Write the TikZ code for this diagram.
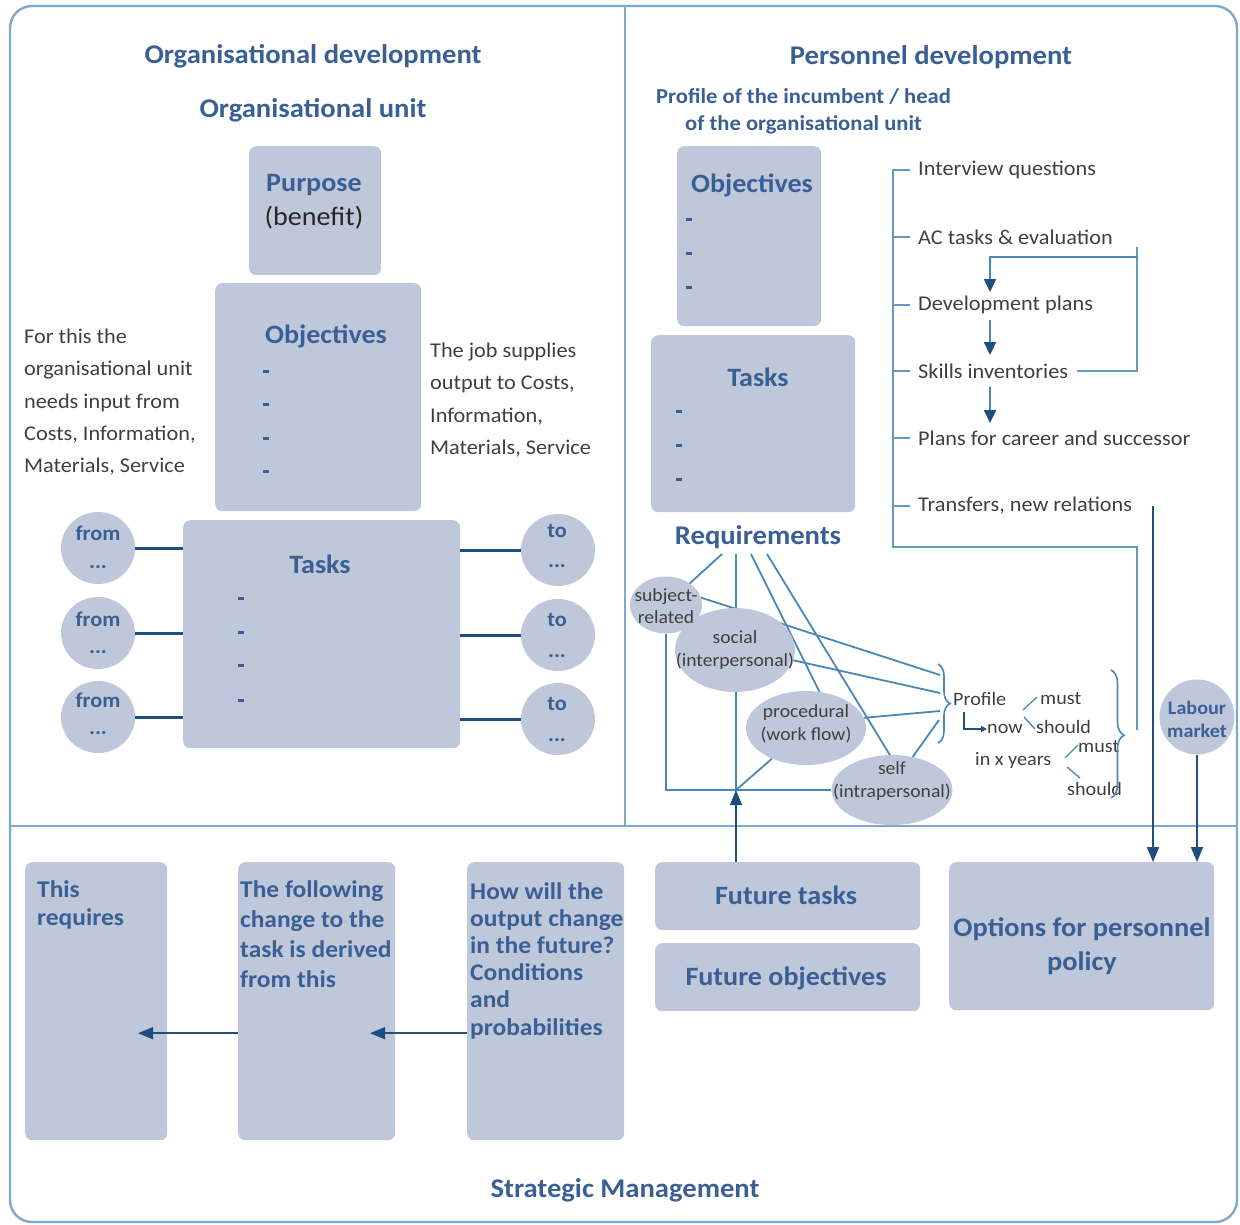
\documentclass[tikz,border=0pt]{standalone}
\usepackage{fontspec}
\setmainfont{Carlito}[FakeStretch=1.06]
\usetikzlibrary{arrows.meta,decorations.pathreplacing,shapes.geometric,calc}
\definecolor{boxfill}{HTML}{BFC8DB}
\definecolor{headblue}{HTML}{3A5F94}
\definecolor{bodygray}{HTML}{3F3F3F}
\definecolor{framecol}{HTML}{7FA8CC}
\definecolor{linecol}{HTML}{4A86B8}
\definecolor{darkblue}{HTML}{1E4F7E}
\pgfdeclarelayer{bg}\pgfsetlayers{bg,main}
\begin{document}
\begin{tikzpicture}[x=1pt,y=-1pt,
  box/.style={fill=boxfill, rounded corners=7pt, inner sep=0pt, anchor=north west},
  ell/.style={ellipse, fill=boxfill, inner sep=0pt},
  hd/.style={text=headblue, font=\bfseries\fontsize{27}{32}\selectfont, inner sep=0pt},
  hdsmall/.style={text=headblue, font=\bfseries\fontsize{21.3}{27}\selectfont, inner sep=0pt},
  bt/.style={text=headblue, font=\bfseries\fontsize{26.5}{31}\selectfont, inner sep=0pt},
  bottxt/.style={text=headblue, font=\bfseries\fontsize{24}{28.5}\selectfont, inner sep=0pt, anchor=north west, align=left},
  eltxt/.style={text=headblue, font=\bfseries\fontsize{21}{24}\selectfont, inner sep=0pt},
  body/.style={text=bodygray, font=\fontsize{21}{32.2}\selectfont, inner sep=0pt},
  listtxt/.style={text=bodygray, font=\fontsize{21}{24}\selectfont, inner sep=0pt, anchor=west},
  reqtxt/.style={text=bodygray, font=\fontsize{18.5}{22.5}\selectfont, inner sep=0pt, align=center},
  proftxt/.style={text=bodygray, font=\fontsize{19}{21}\selectfont, inner sep=0pt, anchor=west},
  dashmk/.style={fill=headblue, minimum width=6pt, minimum height=3pt, inner sep=0pt},
  frame/.style={draw=framecol, line width=2.4pt},
  conn/.style={draw=darkblue, line width=3pt},
  reqline/.style={draw=linecol, line width=1.8pt},
  listline/.style={draw=linecol!85, line width=2.2pt},
  listarr/.style={draw=linecol, line width=2.2pt, -{Triangle[length=13pt,width=12pt,color=darkblue]}},
  darkarr/.style={draw=darkblue, line width=1.6pt, -{Triangle[length=15pt,width=12pt]}},
  smallarr/.style={draw=darkblue, line width=1.8pt, -{Triangle[length=6pt,width=6pt]}},
  brc/.style={draw=linecol, line width=1.6pt, decorate}
]
\useasboundingbox (0,0) rectangle (1240,1224);

% frame
\draw[frame, rounded corners=22pt] (10,6) rectangle (1237,1222);
\draw[frame] (625,6) -- (625,826);
\draw[frame] (10,826) -- (1237,826);

% ---------------- Organisational development ----------------
\node[hd] (odev) at (313,56) {Organisational development};
\node[hd] (ounit) at (313,110) {Organisational unit};

\node[box, minimum width=132pt, minimum height=129pt] (purpose) at (249,146) {};
\node[bt] (purposeT) at (314,185) {Purpose};
\node[text=black!85, font=\fontsize{26.5}{31}\selectfont, inner sep=0pt] (benefit) at (314,218) {(benefit)};

\node[box, minimum width=206pt, minimum height=228pt] (obj) at (215,283) {};
\node[bt] (objT) at (326,336) {Objectives};
\node[dashmk] (od1) at (266,371) {};
\node[dashmk] (od2) at (266,404) {};
\node[dashmk] (od3) at (266,438) {};
\node[dashmk] (od4) at (266,471) {};

\node[body, anchor=north west, align=left] (lefttxt) at (24,329) {For this the\\organisational unit\\needs input from\\Costs, Information,\\Materials, Service};
\node[body, anchor=north west, align=left] (righttxt) at (430,343) {The job supplies\\output to Costs,\\Information,\\Materials, Service};

\node[box, minimum width=277pt, minimum height=228pt] (tasks) at (183,520) {};
\node[bt] (tasksT) at (320,564) {Tasks};
\node[dashmk] (td1) at (241,598) {};
\node[dashmk] (td2) at (241,632) {};
\node[dashmk] (td3) at (241,665) {};
\node[dashmk] (td4) at (241,700) {};

\node[ell, minimum width=74pt, minimum height=72pt] (f1) at (98,548) {};
\node[ell, minimum width=74pt, minimum height=72pt] (f2) at (98,633) {};
\node[ell, minimum width=74pt, minimum height=72pt] (f3) at (98,717) {};
\node[eltxt] (f1a) at (98,533) {from};
\node[eltxt] (f1b) at (98,567) {...};
\node[eltxt] (f2a) at (98,619) {from};
\node[eltxt] (f2b) at (98,652) {...};
\node[eltxt] (f3a) at (98,700) {from};
\node[eltxt] (f3b) at (98,733) {...};

\node[ell, minimum width=74pt, minimum height=72pt] (t1) at (558,550) {};
\node[ell, minimum width=74pt, minimum height=72pt] (t2) at (558,635) {};
\node[ell, minimum width=74pt, minimum height=72pt] (t3) at (558,719) {};
\node[eltxt] (t1a) at (557,531) {to};
\node[eltxt] (t1b) at (557,566) {...};
\node[eltxt] (t2a) at (557,620) {to};
\node[eltxt] (t2b) at (557,656) {...};
\node[eltxt] (t3a) at (557,704) {to};
\node[eltxt] (t3b) at (557,740) {...};

\draw[conn] (f1.east) -- (f1.east -| tasks.west);
\draw[conn] (f2.east) -- (f2.east -| tasks.west);
\draw[conn] (f3.east) -- (f3.east -| tasks.west);
\draw[conn] (t1.west) -- (t1.west -| tasks.east);
\draw[conn] (t2.west) -- (t2.west -| tasks.east);
\draw[conn] (t3.west) -- (t3.west -| tasks.east);

% ---------------- Personnel development ----------------
\node[hd] (pdev) at (931,57) {Personnel development};
\node[hdsmall, anchor=north west, align=left] (profhead) at (656,88) {Profile of the incumbent / head\\\hspace*{29pt}of the organisational unit};

\node[box, minimum width=144pt, minimum height=180pt] (pobj) at (677,146) {};
\node[bt] (pobjT) at (752,185) {Objectives};
\node[dashmk] (pd1) at (689,219) {};
\node[dashmk] (pd2) at (689,253) {};
\node[dashmk] (pd3) at (689,287) {};

\node[box, minimum width=204pt, minimum height=177pt] (ptask) at (651,335) {};
\node[bt] (ptaskT) at (758,377) {Tasks};
\node[dashmk] (pt1) at (679,411) {};
\node[dashmk] (pt2) at (679,445) {};
\node[dashmk] (pt3) at (679,479) {};

\node[hd] (req) at (758,537) {Requirements};

\node[ell, minimum width=72pt, minimum height=57pt] (sr) at (666,605) {};
\node[ell, minimum width=120pt, minimum height=84pt] (soc) at (735,650) {};
\node[ell, minimum width=120pt, minimum height=74pt] (proc) at (806,728) {};
\node[ell, minimum width=121pt, minimum height=70pt] (self) at (892,790) {};
\node[reqtxt] (srT) at (666,606) {subject-\\related};
\node[reqtxt] (socT) at (735,650) {social\\(interpersonal)};
\node[reqtxt] (procT) at (806,724) {procedural\\(work flow)};
\node[reqtxt] (selfT) at (892,781) {self\\(intrapersonal)};

% right list
\node[listtxt] (iq) at (918,170) {Interview questions};
\node[listtxt] (ac) at (918,237) {AC tasks \& evaluation};
\node[listtxt] (dp) at (918,305) {Development plans};
\node[listtxt] (si) at (918,371) {Skills inventories};
\node[listtxt] (pc) at (918,438) {Plans for career and successor};
\node[listtxt] (tr) at (918,506) {Transfers, new relations};
\coordinate (brx) at (893,170);
\coordinate (tkx) at (910,170);
\coordinate (ax) at (990,0);
\coordinate (lpx) at (1137,0);
\coordinate (lpy) at (0,257);

% profile area
\node[proftxt] (prof) at (953,699) {Profile};
\node[proftxt] (now) at (987,729) {now};
\node[proftxt] (must1) at (1040,699) {must};
\node[proftxt] (should1) at (1036,727) {should};
\node[proftxt] (inx) at (975,760) {in x years};
\node[proftxt] (must2) at (1078,747) {must};
\node[proftxt] (should2) at (1067,789) {should};

\node[ell, circle, minimum size=75pt] (lab) at (1197,717) {};
\node[text=headblue, font=\bfseries\fontsize{19}{23}\selectfont, inner sep=0pt, align=center] (labT) at (1197,719) {Labour\\market};

% ---------------- Strategic management ----------------
\node[box, minimum width=142pt, minimum height=278pt] (treq) at (25,862) {};
\node[bottxt] (treqT) at (37,880) {This\\requires};
\node[box, minimum width=157pt, minimum height=278pt] (fol) at (238,862) {};
\node[bottxt, font=\bfseries\fontsize{24}{30.2}\selectfont] (folT) at (240,880) {The following\\change to the\\task is derived\\from this};
\node[box, minimum width=157pt, minimum height=278pt] (how) at (467,862) {};
\node[bottxt, font=\bfseries\fontsize{24}{27.2}\selectfont] (howT) at (470,882) {How will the\\output change\\in the future?\\Conditions\\and\\probabilities};

\node[box, minimum width=265pt, minimum height=68pt] (ft) at (655,862) {};
\node[bt] (ftT) at (786,895) {Future tasks};
\node[box, minimum width=265pt, minimum height=68pt] (fo) at (655,943) {};
\node[bt] (foT) at (786,978) {Future objectives};
\node[box, minimum width=265pt, minimum height=148pt] (opt) at (949,862) {};
\node[bt, align=center, font=\bfseries\fontsize{26.8}{34}\selectfont] (optT) at (1082,946) {Options for personnel\\policy};

\node[hd] (sm) at (625,1190) {Strategic Management};

\draw[darkarr] ($(how.west)+(0,32)$) -- ++(-97,0);
\draw[darkarr] ($(fol.west)+(0,32)$) -- ++(-100,0);

% ---------------- connectors (background) ----------------
\begin{pgfonlayer}{bg}
\coordinate (rq1) at (722,554);
\coordinate (rq2) at (736,554);
\coordinate (rq3) at (751,554);
\coordinate (rq4) at (767,554);
\draw[reqline] (rq1) -- (sr.center);
\draw[reqline] (rq2) -- (rq2 |- ft.north);
\draw[reqline] (rq3) -- (826,705);
\draw[reqline] (rq4) -- (896,765);
\coordinate (bA) at (940,675);
\coordinate (bB) at (940,693);
\coordinate (bC) at (940,711);
\coordinate (bD) at (939,720);
\draw[reqline] (sr.12) -- (bA);
\draw[reqline] (soc.-10) -- (bB);
\draw[reqline] (proc.10) -- (bC);
\draw[reqline] (self.58) -- (bD);
\draw[reqline] (sr.south) |- (self.west);
\draw[reqline] (proc.222) -- (rq2 |- self.west);
\end{pgfonlayer}
\draw[darkarr] (rq2 |- ft.north) -- (736,790);

% braces
\draw[brc, decoration={brace, amplitude=12pt, aspect=0.5}] (938,664) -- (938,743);
\draw[brc, decoration={brace, amplitude=13pt, aspect=0.51}] (1111,670) -- (1111,798);

% profile small lines
\draw[smallarr] (964,712) |- (now.west);
\draw[reqline, line width=1.3pt] (1023,710) -- (1037,697);
\draw[reqline, line width=1.3pt] (1024,717) -- (1035,729);
\draw[reqline, line width=1.3pt] (1065,758) -- (1078,745);
\draw[reqline, line width=1.3pt] (1067,767) -- (1080,778);

% right list bracket
\draw[listline] (iq.west -| tkx) -- (iq.west -| brx) -- (893,547) -- (1137,547) -- (1137,730);
\draw[listline] (ac.west -| tkx) -- (ac.west -| brx);
\draw[listline] (dp.west -| tkx) -- (dp.west -| brx);
\draw[listline] (si.west -| tkx) -- (si.west -| brx);
\draw[listline] (pc.west -| tkx) -- (pc.west -| brx);
\draw[listline] (tr.west -| tkx) -- (tr.west -| brx);
\draw[listline] ($(si.east)+(9,0)$) -- (si.east -| lpx) -- (1137,247);
\draw[listarr] (lpx |- lpy) -- (ax |- lpy) -- (990,292);
\draw[listarr] (990,320) -- (990,355);
\draw[listarr] (990,387) -- (990,423);

% arrows to options
\coordinate (ax2) at (1153,506);
\draw[darkarr, line width=2pt] (ax2) -- (ax2 |- opt.north);
\draw[darkarr, line width=2pt] (lab.south) -- (lab.south |- opt.north);

\end{tikzpicture}
\end{document}
